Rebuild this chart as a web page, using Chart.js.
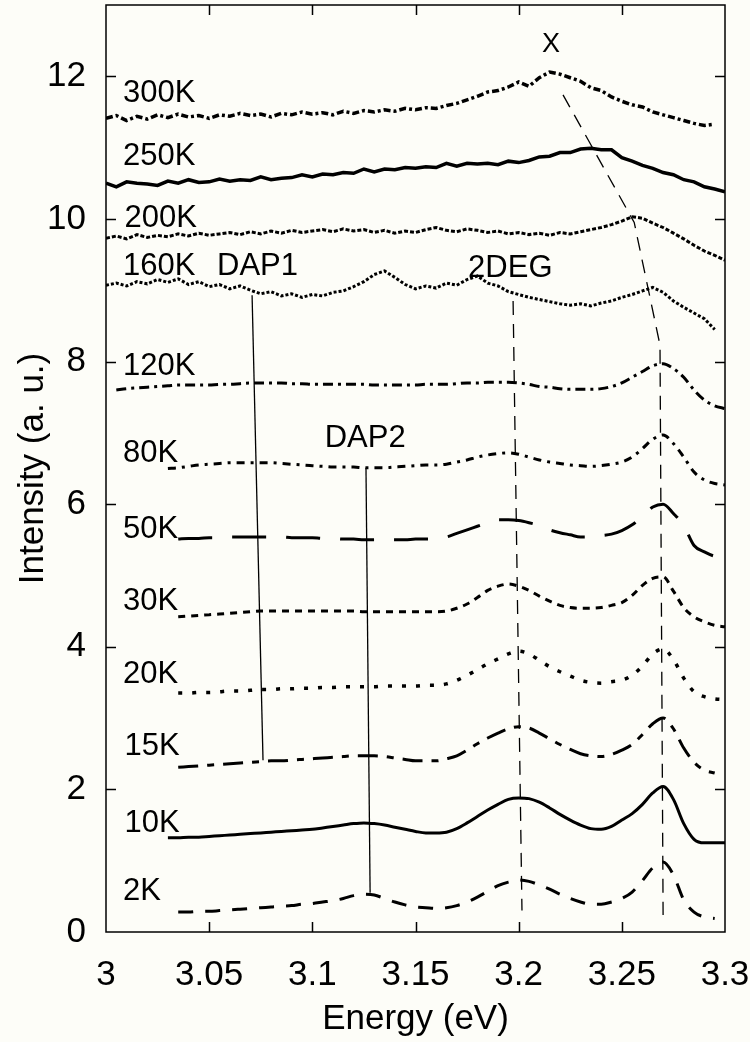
<!DOCTYPE html>
<html>
<head>
<meta charset="utf-8">
<script src="https://cdn.jsdelivr.net/npm/chart.js@4.4.1/dist/chart.umd.min.js"></script>
<style>
  html, body { margin: 0; padding: 0; background: #fdfdf8; }
  #wrap { width: 750px; height: 1042px; }
</style>
</head>
<body>
<div id="wrap"><canvas id="plChart" width="750" height="1042"></canvas></div>
<script>
// photon energy grid (eV)
const energy = [3.000,3.005,3.010,3.015,3.020,3.025,3.030,3.035,3.040,3.045,
    3.050,3.055,3.060,3.065,3.070,3.075,3.080,3.085,3.090,3.095,
    3.100,3.105,3.110,3.115,3.120,3.125,3.130,3.135,3.140,3.145,
    3.150,3.155,3.160,3.165,3.170,3.175,3.180,3.185,3.190,3.195,
    3.200,3.205,3.210,3.215,3.220,3.225,3.230,3.235,3.240,3.245,
    3.250,3.255,3.260,3.265,3.270,3.275,3.280,3.285,3.290,3.295,3.300];

const xTicks = [3, 3.05, 3.1, 3.15, 3.2, 3.25, 3.3];
const yTicks = [0, 2, 4, 6, 8, 10, 12];

const N = null;
// PL intensity (offset, a.u.) per temperature
const pl2K = [N,N,N,N,N,N,N,0.28,0.28,0.29,0.29,0.30,0.31,0.32,0.33,0.34,0.35,0.36,0.37,0.39,
    0.40,0.42,0.44,0.47,0.51,0.53,0.52,0.47,0.42,0.38,0.35,0.34,0.33,0.34,0.37,0.42,0.49,0.57,0.65,0.70,
    0.73,0.71,0.66,0.60,0.53,0.47,0.42,0.39,0.39,0.42,0.47,0.56,0.72,0.90,0.98,0.80,0.45,0.28,0.21,0.19,N];
const pl10K = [N,N,N,N,N,N,1.32,1.32,1.33,1.33,1.34,1.35,1.36,1.37,1.38,1.39,1.40,1.41,1.42,1.43,
    1.44,1.46,1.48,1.50,1.52,1.53,1.52,1.50,1.47,1.44,1.41,1.39,1.39,1.40,1.45,1.53,1.62,1.71,1.79,1.86,
    1.88,1.87,1.82,1.74,1.65,1.57,1.50,1.45,1.44,1.48,1.57,1.66,1.79,1.95,2.04,1.86,1.52,1.30,1.25,1.25,1.25];
const pl15K = [N,N,N,N,N,N,N,2.31,2.32,2.33,2.34,2.35,2.36,2.37,2.38,2.39,2.40,2.40,2.41,2.42,
    2.43,2.44,2.45,2.46,2.47,2.47,2.47,2.46,2.44,2.42,2.40,2.40,2.40,2.43,2.47,2.55,2.64,2.72,2.79,2.85,
    2.88,2.86,2.79,2.71,2.63,2.56,2.50,2.47,2.46,2.49,2.55,2.63,2.77,2.92,3.00,2.85,2.58,2.38,2.27,2.23,N];
const pl20K = [N,N,N,N,N,N,N,3.35,3.35,3.36,3.36,3.37,3.38,3.38,3.39,3.40,3.40,3.41,3.41,3.42,
    3.42,3.43,3.43,3.44,3.44,3.44,3.44,3.45,3.45,3.45,3.45,3.46,3.46,3.48,3.53,3.60,3.68,3.76,3.83,3.90,
    3.94,3.90,3.81,3.72,3.65,3.59,3.53,3.50,3.49,3.51,3.53,3.60,3.73,3.90,3.97,3.82,3.56,3.37,3.30,3.27,3.26];
const pl30K = [N,N,N,N,N,N,N,4.42,4.43,4.44,4.45,4.46,4.47,4.48,4.49,4.50,4.50,4.50,4.50,4.50,
    4.50,4.50,4.50,4.50,4.50,4.49,4.49,4.49,4.49,4.49,4.49,4.49,4.49,4.50,4.54,4.60,4.69,4.79,4.85,4.88,
    4.85,4.79,4.71,4.64,4.58,4.55,4.54,4.54,4.55,4.58,4.62,4.72,4.86,4.96,4.98,4.78,4.55,4.42,4.35,4.30,4.28];
const pl50K = [N,N,N,N,N,N,N,5.51,5.52,5.52,5.53,5.53,5.54,5.54,5.54,5.54,5.54,5.54,5.53,5.53,
    5.53,5.52,5.52,5.51,5.51,5.50,5.50,5.50,5.50,5.50,5.51,5.51,5.52,5.54,5.59,5.64,5.69,5.74,5.78,5.78,
    5.77,5.74,5.70,5.64,5.60,5.57,5.54,5.54,5.56,5.58,5.63,5.71,5.83,5.96,6.00,5.87,5.70,5.42,5.33,5.27,5.25];
const pl80K = [N,N,N,N,N,N,6.50,6.51,6.53,6.55,6.56,6.57,6.58,6.58,6.58,6.58,6.58,6.57,6.56,6.55,
    6.54,6.53,6.52,6.52,6.52,6.51,6.51,6.51,6.52,6.53,6.54,6.55,6.55,6.56,6.59,6.62,6.66,6.69,6.71,6.72,
    6.70,6.66,6.62,6.59,6.57,6.55,6.54,6.53,6.54,6.56,6.59,6.66,6.78,6.91,6.97,6.85,6.66,6.45,6.34,6.29,6.27];
const pl120K = [N,7.60,7.62,7.63,7.64,7.65,7.66,7.67,7.67,7.67,7.67,7.68,7.68,7.69,7.70,7.70,7.70,7.70,7.69,7.69,
    7.68,7.68,7.68,7.68,7.68,7.68,7.67,7.67,7.67,7.67,7.67,7.68,7.68,7.68,7.69,7.70,7.70,7.71,7.71,7.71,
    7.70,7.68,7.65,7.64,7.62,7.61,7.61,7.61,7.62,7.65,7.70,7.78,7.86,7.94,7.97,7.90,7.78,7.60,7.46,7.38,7.34];
const pl160K = [9.07,9.10,9.06,9.12,9.09,9.15,9.11,9.16,9.08,9.12,9.05,9.08,9.02,9.06,9.00,8.95,8.98,8.92,8.95,8.90,
    8.94,8.92,8.97,8.99,9.05,9.12,9.22,9.27,9.18,9.08,9.02,9.06,9.03,9.10,9.07,9.15,9.20,9.10,9.06,8.98,
    8.94,8.90,8.87,8.84,8.81,8.79,8.81,8.78,8.82,8.85,8.90,8.94,8.99,9.04,8.97,8.85,8.76,8.68,8.60,8.45,N];
const pl200K = [9.73,9.76,9.72,9.78,9.74,9.77,9.75,9.79,9.76,9.80,9.77,9.79,9.81,9.78,9.82,9.79,9.83,9.80,9.84,9.81,
    9.83,9.85,9.82,9.86,9.83,9.85,9.81,9.84,9.80,9.83,9.81,9.85,9.88,9.84,9.82,9.86,9.84,9.81,9.83,9.79,
    9.81,9.78,9.80,9.77,9.81,9.79,9.82,9.85,9.88,9.92,9.97,10.03,10.01,9.94,9.88,9.80,9.72,9.63,9.55,9.49,9.42];
const pl250K = [10.50,10.45,10.52,10.50,10.49,10.47,10.53,10.50,10.55,10.51,10.52,10.56,10.53,10.55,10.54,10.59,10.55,10.57,10.58,10.62,
    10.59,10.63,10.62,10.65,10.64,10.70,10.66,10.70,10.69,10.72,10.71,10.73,10.72,10.78,10.74,10.78,10.77,10.78,10.76,10.81,
    10.79,10.82,10.87,10.88,10.93,10.93,10.98,10.99,10.97,10.97,10.86,10.81,10.75,10.71,10.65,10.62,10.55,10.52,10.45,10.42,10.38];
const pl300K = [11.41,11.45,11.38,11.44,11.40,11.46,11.42,11.47,11.43,11.45,11.41,11.46,11.44,11.48,11.45,11.47,11.43,11.48,11.46,11.50,
    11.47,11.49,11.46,11.51,11.48,11.52,11.50,11.53,11.51,11.55,11.53,11.56,11.55,11.59,11.62,11.67,11.72,11.78,11.80,11.85,
    11.92,11.86,11.98,12.06,12.03,11.98,11.93,11.84,11.80,11.71,11.65,11.60,11.57,11.50,11.46,11.42,11.38,11.34,11.31,11.33,N];

// peak guide lines (energy, intensity)
const dap1X = [3.0708, 3.0761], dap1Y = [8.93, 2.41];
const dap2X = [3.126, 3.128], dap2Y = [6.51, 0.55];
const degX = [3.1973, 3.2016], degY = [8.85, 0.30];
const excX = [3.2215, 3.256, 3.2685, 3.270], excY = [11.74, 9.95, 8.23, 0.24];

const FONT = '"Liberation Sans", Arial, Helvetica, sans-serif';

function pts(xs, ys) {
    return xs.map((x, i) => ({ x, y: ys[i] })).filter(p => p.y != null);
}

function curve(vals, dash, width, smooth) {
    return {
        data: pts(energy, vals),
        borderColor: '#000',
        borderWidth: width || 3,
        borderDash: dash,
        pointRadius: 0,
        cubicInterpolationMode: smooth ? 'monotone' : 'default',
        tension: 0,
        fill: false,
    };
}

function guide(xs, ys, dash) {
    return {
        data: pts(xs, ys),
        borderColor: '#000',
        borderWidth: 1.3,
        borderDash: dash,
        pointRadius: 0,
        tension: 0,
        fill: false,
    };
}

// text notes, anchored in data units
const notes = [
    { text: '300K', x: 3.0082, y: 11.64, size: 31 },
    { text: '250K', x: 3.0082, y: 10.76, size: 31 },
    { text: '200K', x: 3.0090, y: 9.89, size: 31 },
    { text: '160K', x: 3.0082, y: 9.21, size: 31 },
    { text: 'DAP1', x: 3.0538, y: 9.21, size: 31 },
    { text: 'X', x: 3.2157, y: 12.34, size: 27, align: 'center' },
    { text: '2DEG', x: 3.1755, y: 9.19, size: 31 },
    { text: '120K', x: 3.0082, y: 7.81, size: 31 },
    { text: 'DAP2', x: 3.1060, y: 6.80, size: 31 },
    { text: '80K', x: 3.0082, y: 6.59, size: 31 },
    { text: '50K', x: 3.0082, y: 5.53, size: 31 },
    { text: '30K', x: 3.0082, y: 4.52, size: 31 },
    { text: '20K', x: 3.0082, y: 3.49, size: 31 },
    { text: '15K', x: 3.0090, y: 2.48, size: 31 },
    { text: '10K', x: 3.0090, y: 1.40, size: 31 },
    { text: '2K', x: 3.0082, y: 0.45, size: 31 },
];

function noScalePadding(s) {
    s.paddingTop = 0;
    s.paddingBottom = 0;
    s.paddingLeft = 0;
    s.paddingRight = 0;
}

const frameAndNotes = {
    id: 'frameAndNotes',
    beforeDraw(chart) {
        const ctx = chart.ctx;
        ctx.save();
        ctx.fillStyle = '#fdfdf8';
        ctx.fillRect(0, 0, chart.width, chart.height);
        ctx.restore();
    },
    afterDraw(chart) {
        const { ctx, chartArea: a, scales: { x, y } } = chart;
        ctx.save();
        ctx.strokeStyle = '#000';
        ctx.lineWidth = 1.5;
        ctx.strokeRect(a.left, a.top, a.right - a.left, a.bottom - a.top);
        ctx.beginPath();
        xTicks.slice(1, -1).forEach(v => {
            const px = Math.round(x.getPixelForValue(v)) + 0.5;
            ctx.moveTo(px, a.bottom); ctx.lineTo(px, a.bottom - 10);
            ctx.moveTo(px, a.top); ctx.lineTo(px, a.top + 10);
        });
        yTicks.slice(1).forEach(v => {
            const py = Math.round(y.getPixelForValue(v)) + 0.5;
            ctx.moveTo(a.left, py); ctx.lineTo(a.left + 10, py);
            ctx.moveTo(a.right, py); ctx.lineTo(a.right - 10, py);
        });
        ctx.stroke();

        ctx.fillStyle = '#000';
        ctx.textBaseline = 'alphabetic';
        notes.forEach(n => {
            ctx.font = n.size + 'px ' + FONT;
            ctx.textAlign = n.align || 'left';
            ctx.fillText(n.text, x.getPixelForValue(n.x), y.getPixelForValue(n.y));
        });
        ctx.restore();
    }
};

new Chart(document.getElementById('plChart').getContext('2d'), {
    type: 'line',
    data: {
        datasets: [
            guide(dap1X, dap1Y, []),
            guide(dap2X, dap2Y, []),
            guide(degX, degY, [14, 9]),
            guide(excX, excY, [14, 9]),
            curve(pl2K, [15, 12], 3, true),
            curve(pl10K, [], 3, true),
            curve(pl15K, [20, 9, 7, 9], 3, true),
            curve(pl20K, [4, 10], 3.5, true),
            curve(pl30K, [7, 6], 3, true),
            curve(pl50K, [34, 20], 3, true),
            curve(pl80K, [8, 6, 3, 6], 3, true),
            curve(pl120K, [10, 5, 3, 5], 3, true),
            curve(pl160K, [3, 2], 3, false),
            curve(pl200K, [4, 2], 3, false),
            curve(pl250K, [], 3.5, false),
            curve(pl300K, [7, 3, 3, 3], 3.5, false),
        ]
    },
    options: {
        responsive: false,
        devicePixelRatio: 1,
        animation: false,
        layout: { padding: { top: 5, right: 25, left: 0, bottom: 0 } },
        plugins: {
            legend: { display: false },
            tooltip: { enabled: false },
        },
        scales: {
            x: {
                type: 'linear',
                min: 3,
                max: 3.3,
                afterFit: s => { s.height = 110; noScalePadding(s); },
                afterBuildTicks: s => { s.ticks = xTicks.map(v => ({ value: v })); },
                grid: { display: false },
                border: { display: false },
                ticks: {
                    color: '#000',
                    font: { family: FONT, size: 35 },
                    padding: 14,
                    maxRotation: 0,
                    autoSkip: false,
                    callback: v => String(+Number(v).toFixed(2)),
                },
                title: {
                    display: true,
                    text: 'Energy (eV)',
                    color: '#000',
                    font: { family: FONT, size: 35 },
                    padding: { top: 0, bottom: 2 },
                },
            },
            y: {
                type: 'linear',
                min: 0,
                max: 13,
                afterFit: s => { s.width = 106; noScalePadding(s); },
                afterBuildTicks: s => { s.ticks = yTicks.map(v => ({ value: v })); },
                grid: { display: false },
                border: { display: false },
                ticks: {
                    color: '#000',
                    font: { family: FONT, size: 35 },
                    padding: 12,
                    autoSkip: false,
                },
                title: {
                    display: true,
                    text: 'Intensity (a. u.)',
                    color: '#000',
                    font: { family: FONT, size: 35 },
                    padding: { top: 12, bottom: 0 },
                },
            },
        },
    },
    plugins: [frameAndNotes],
});
</script>
</body>
</html>
